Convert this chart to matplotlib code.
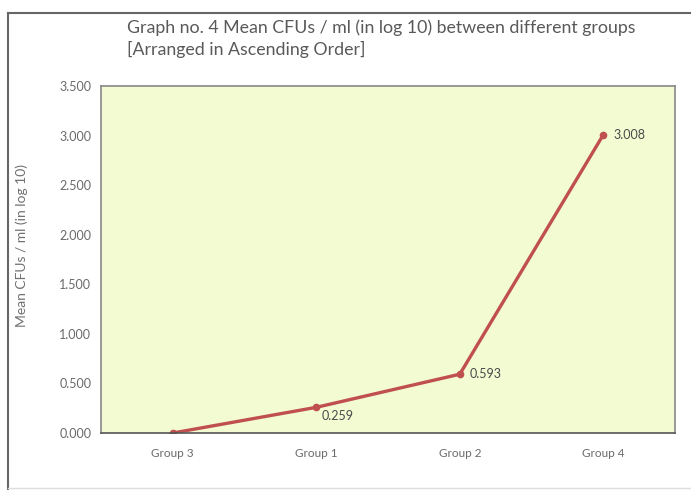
import matplotlib.pyplot as plt
from matplotlib.lines import Line2D

groups = ["Group 3", "Group 1", "Group 2", "Group 4"]
mean_cfu = [0.0, 0.259, 0.593, 3.008]
value_labels = ["", "0.259", "0.593", "3.008"]
yticks = [0.0, 0.5, 1.0, 1.5, 2.0, 2.5, 3.0, 3.5]

plt.rcParams['font.family'] = ['Lato', 'DejaVu Sans']
grey = '#595959'
red = '#c0504d'

fig = plt.figure(figsize=(6.91, 4.9), dpi=100)
ax = fig.add_axes([0.1462, 0.1163, 0.8307, 0.7082])
ax.set_facecolor('#f3fbd3')

x = list(range(len(groups)))
ax.plot(x, mean_cfu, color=red, lw=2.4, marker='o', ms=4.5, mfc=red, mec=red)

# point labels
offsets = [(0, 0), (4, -6), (7, 0), (7, 0)]
for xi, yi, lab, off in zip(x, mean_cfu, value_labels, offsets):
    if lab:
        ax.annotate(lab, (xi, yi), xytext=off, textcoords='offset points',
                    ha='left', va='center', fontsize=9, color='#4a4a4a')

ax.set_xlim(-0.5, 3.5)
ax.set_ylim(0, 3.5)
ax.set_xticks(x)
ax.set_xticklabels(groups)
ax.set_yticks(yticks)
ax.set_yticklabels([f"{v:.3f}" for v in yticks])
ax.tick_params(axis='y', length=0, labelsize=9, colors='#6a6a6a', pad=7)
ax.tick_params(axis='x', length=0, labelsize=8.5, colors='#6a6a6a', pad=11)
for s in ax.spines.values():
    s.set_color('#888888')
    s.set_linewidth(1.2)
ax.spines['bottom'].set_color('#555555')

ax.set_ylabel("Mean CFUs / ml (in log 10)", fontsize=10, color='#707070')
ax.yaxis.set_label_coords(-0.127, 0.54)

fig.text(0.1838, 0.943, "Graph no. 4 Mean CFUs / ml (in log 10) between different groups",
         fontsize=12.8, color=grey, va='center', ha='left')
fig.text(0.1838, 0.898, "[Arranged in Ascending Order]",
         fontsize=12.8, color=grey, va='center', ha='left')

# outer chart frame
fig.add_artist(Line2D([0.0116, 0.0116], [0.0, 0.9735], color='#666666', lw=1.5,
                      transform=fig.transFigure))
fig.add_artist(Line2D([0.0116, 1.0], [0.9735, 0.9735], color='#666666', lw=1.5,
                      transform=fig.transFigure))
fig.add_artist(Line2D([0.0116, 1.0], [0.004, 0.004], color='#dddddd', lw=1,
                      transform=fig.transFigure))

fig.savefig("out.png", dpi=100)
